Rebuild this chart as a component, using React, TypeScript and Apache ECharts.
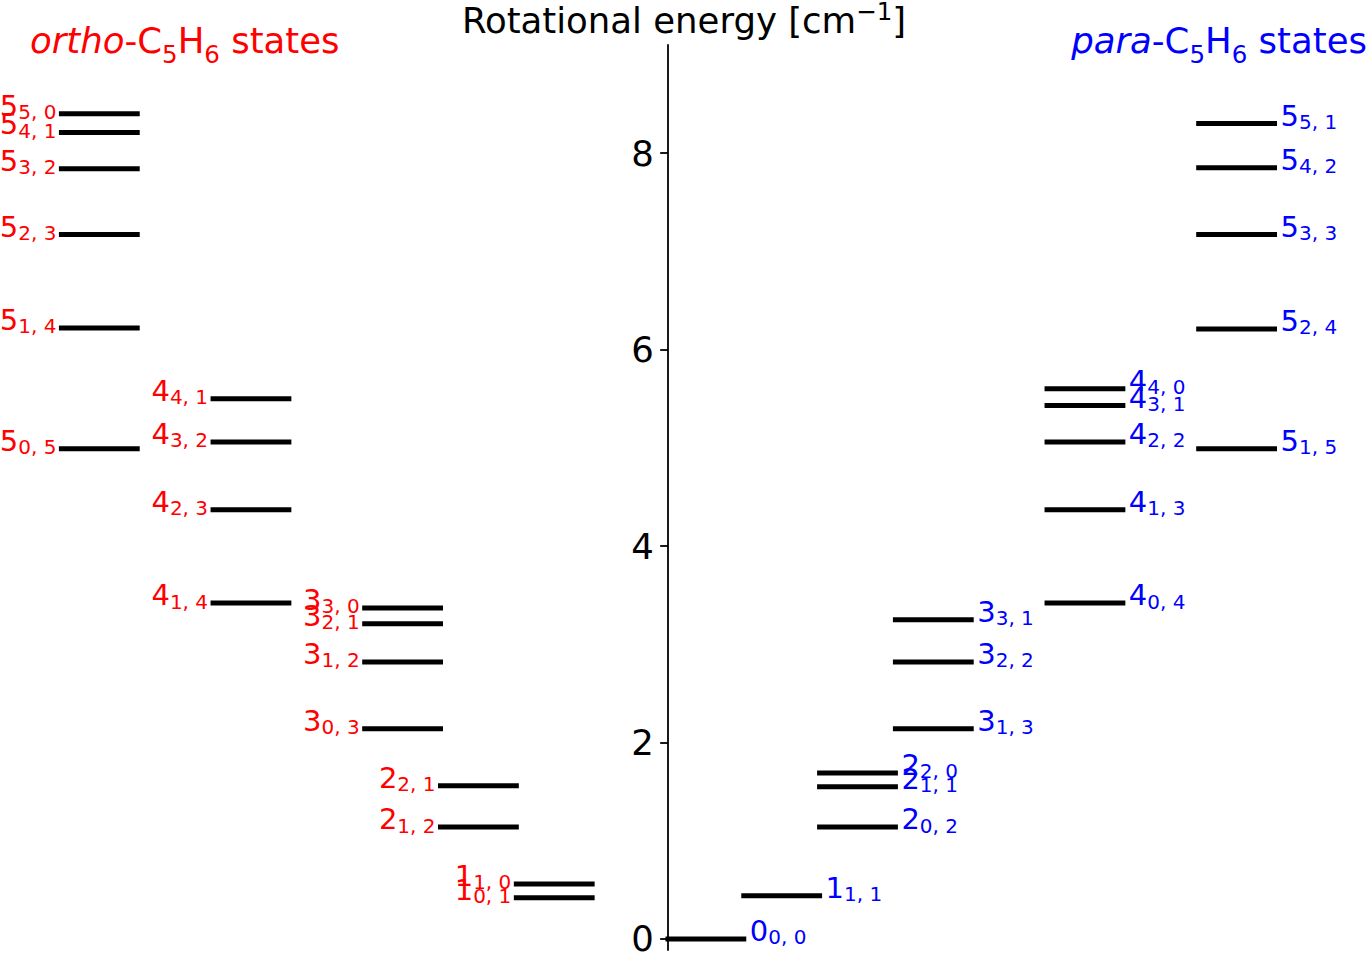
import React, { useEffect, useRef } from "react";
import * as echarts from "echarts";

// ortho-C5H6 rotational states J_{Ka,Kc} and energies (cm^-1)
const orthoJ = [5, 5, 5, 5, 5, 5, 4, 4, 4, 4, 3, 3, 3, 3, 2, 2, 1, 1];
const orthoKa = [5, 4, 3, 2, 1, 0, 4, 3, 2, 1, 3, 2, 1, 0, 2, 1, 1, 0];
const orthoKc = [0, 1, 2, 3, 4, 5, 1, 2, 3, 4, 0, 1, 2, 3, 1, 2, 0, 1];
const orthoEnergy = [
  8.4, 8.21, 7.84, 7.17, 6.22, 4.99, 5.5, 5.06, 4.37, 3.42, 3.37, 3.21, 2.82,
  2.14, 1.56, 1.14, 0.56, 0.42,
];
// para-C5H6 rotational states
const paraJ = [0, 1, 2, 2, 2, 3, 3, 3, 4, 4, 4, 4, 4, 5, 5, 5, 5, 5];
const paraKa = [0, 1, 2, 1, 0, 3, 2, 1, 4, 3, 2, 1, 0, 5, 4, 3, 2, 1];
const paraKc = [0, 1, 0, 1, 2, 1, 2, 3, 0, 1, 2, 3, 4, 1, 2, 3, 4, 5];
const paraEnergy = [
  0, 0.44, 1.69, 1.55, 1.14, 3.25, 2.82, 2.14, 5.6, 5.43, 5.06, 4.37, 3.42, 8.3,
  7.85, 7.17, 6.21, 4.99,
];
// column start (x, data units) for each J
const orthoColumnJ = [1, 2, 3, 4, 5];
const orthoColumnStart = [-2, -3, -4, -6, -8];
const paraColumnJ = [0, 1, 2, 3, 4, 5];
const paraColumnStart = [0, 1, 2, 3, 5, 7];
const yTicks = [0, 2, 4, 6, 8];

const X_MIN = -8.81;
const X_MAX = 9.22;
const WIDTH = 1367;
const HEIGHT = 956;

const FONT = "DejaVu Sans";
const RED = "#ff0000";
const BLUE = "#0000ff";

function makeSeries(
  name: string,
  J: number[],
  Ka: number[],
  Kc: number[],
  E: number[],
  colJ: number[],
  colStart: number[],
  side: "left" | "right",
  color: string
) {
  const data = J.map((j, i) => {
    const x0 = colStart[colJ.indexOf(j)];
    return [x0, x0 + 1, E[i]];
  });
  return {
    type: "custom",
    name,
    data,
    encode: { x: [0, 1], y: 2 },
    clip: false,
    silent: true,
    renderItem: (params: any, api: any) => {
      const i = params.dataIndex;
      const e = api.value(2);
      const p0 = api.coord([api.value(0), e]);
      const p1 = api.coord([api.value(1), e]);
      return {
        type: "group",
        children: [
          {
            type: "line",
            shape: { x1: p0[0], y1: p0[1], x2: p1[0], y2: p1[1] },
            style: { stroke: "#000", lineWidth: 5, lineCap: "square" },
          },
          {
            type: "text",
            x: side === "left" ? p0[0] - 5 : p1[0] + 6,
            y: p0[1] - 7,
            style: {
              text: `{m|${J[i]}}{s|${Ka[i]}, ${Kc[i]}}`,
              align: side === "left" ? "right" : "left",
              verticalAlign: "middle",
              fill: color,
              rich: {
                m: {
                  fontSize: 29,
                  fontFamily: FONT,
                  lineHeight: 31,
                  verticalAlign: "top",
                  fill: color,
                },
                s: {
                  fontSize: 20,
                  fontFamily: FONT,
                  lineHeight: 20,
                  verticalAlign: "bottom",
                  fill: color,
                },
              },
            },
          },
        ],
      };
    },
  };
}

export default function App() {
  const ref = useRef<HTMLDivElement>(null);
  useEffect(() => {
    if (!ref.current) return;
    const chart = echarts.init(ref.current, undefined, { renderer: "svg" });
    const titleRich = (color: string, sub: "top" | "bottom", lh: number) => ({
      b: {
        fontSize: 35.5,
        fontFamily: FONT,
        lineHeight: lh,
        verticalAlign: sub === "bottom" ? "top" : "bottom",
        fill: color,
      },
      i: {
        fontSize: 35.5,
        fontFamily: FONT,
        fontStyle: "italic",
        lineHeight: lh,
        verticalAlign: "top",
        fill: color,
      },
      s: {
        fontSize: 24.5,
        fontFamily: FONT,
        lineHeight: 25,
        verticalAlign: sub,
        fill: color,
      },
    });
    const axisOffset = -((0 - X_MIN) / (X_MAX - X_MIN)) * WIDTH;
    chart.setOption({
      animation: false,
      backgroundColor: "#fff",
      grid: {
        left: 0,
        right: 0,
        top: 45,
        bottom: 6,
        containLabel: false,
        outerBoundsMode: "none",
      },
      xAxis: {
        type: "value",
        min: X_MIN,
        max: X_MAX,
        show: false,
        axisLine: { onZero: false },
        splitLine: { show: false },
      },
      yAxis: {
        type: "value",
        min: -0.112,
        max: 9.1,
        position: "left",
        offset: axisOffset,
        axisLine: {
          show: true,
          onZero: false,
          lineStyle: { color: "#000", width: 1.8 },
        },
        axisTick: {
          show: true,
          length: 7.8,
          customValues: yTicks,
          lineStyle: { color: "#000", width: 1.8 },
        },
        axisLabel: {
          customValues: yTicks,
          fontSize: 35.5,
          fontFamily: FONT,
          color: "#000",
          margin: 14,
        },
        splitLine: { show: false },
      },
      graphic: [
        {
          type: "text",
          x: 684,
          y: -1.5,
          style: {
            text: "{b|Rotational energy [cm}{s|\u22121}{b|]}",
            align: "center",
            verticalAlign: "top",
            rich: titleRich("#000", "top", 40),
          },
        },
        {
          type: "text",
          x: 30,
          y: 22,
          style: {
            text: "{i|ortho}{b|-C}{s|5}{b|H}{s|6}{b| states}",
            align: "left",
            verticalAlign: "top",
            rich: titleRich(RED, "bottom", 45),
          },
        },
        {
          type: "text",
          x: WIDTH,
          y: 22,
          style: {
            text: "{i|para}{b|-C}{s|5}{b|H}{s|6}{b| states}",
            align: "right",
            verticalAlign: "top",
            rich: titleRich(BLUE, "bottom", 45),
          },
        },
      ],
      series: [
        makeSeries(
          "ortho",
          orthoJ,
          orthoKa,
          orthoKc,
          orthoEnergy,
          orthoColumnJ,
          orthoColumnStart,
          "left",
          RED
        ),
        makeSeries(
          "para",
          paraJ,
          paraKa,
          paraKc,
          paraEnergy,
          paraColumnJ,
          paraColumnStart,
          "right",
          BLUE
        ),
      ],
    });
    return () => chart.dispose();
  }, []);
  return (
    <div
      ref={ref}
      style={{
        position: "fixed",
        left: 0,
        top: 0,
        width: WIDTH,
        height: HEIGHT,
        background: "#fff",
      }}
    />
  );
}
